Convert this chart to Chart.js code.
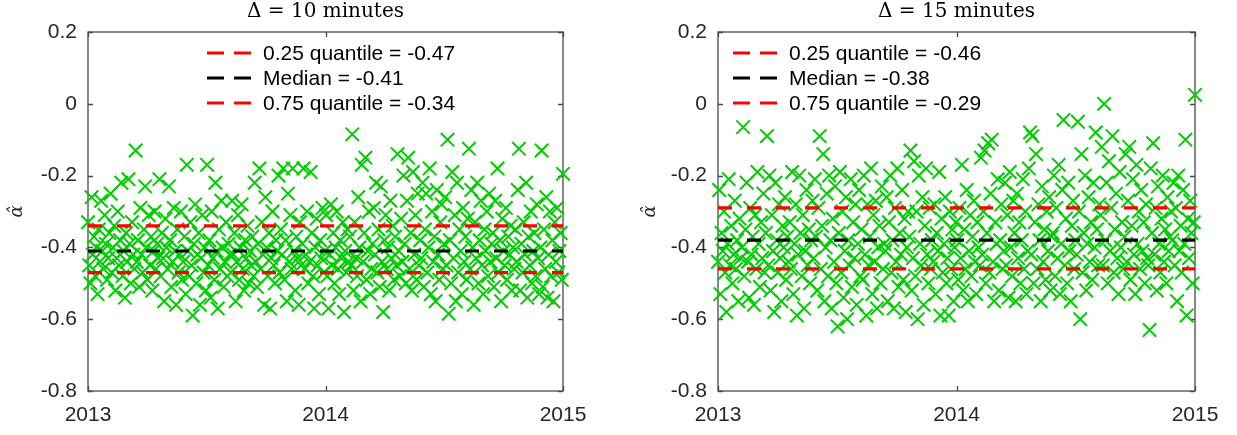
<!DOCTYPE html>
<html><head><meta charset="utf-8">
<script src="https://cdn.jsdelivr.net/npm/chart.js@4.4.1/dist/chart.umd.min.js"></script>
<style>
html,body{margin:0;padding:0;background:#fff;overflow:hidden}
#wrap{position:relative;width:1237px;height:435px;background:#fff}
canvas{position:absolute;top:0}
#c1{left:0}
#c2{left:640px}
</style></head><body>
<div id="wrap"><canvas id="c1" width="640" height="435"></canvas><canvas id="c2" width="597" height="435"></canvas></div>
<script>
// ---- data ----
const startYear = 2013, endYear = 2015;
const xTickYears = [2013, 2014, 2015];
const yMin = -0.8, yMax = 0.2, yStep = 0.2;
const titles = ['Δ = 10 minutes', 'Δ = 15 minutes'];
const yLabel = 'α̂';
const legendNames = ['0.25 quantile', 'Median', '0.75 quantile'];
const quant10 = [-0.47, -0.41, -0.34];
const quant15 = [-0.46, -0.38, -0.29];

const alpha10 = [
-0.33,-0.45,-0.50,-0.26,-0.42,-0.37,-0.48,-0.40,-0.53,-0.35,-0.44,-0.27,-0.41,-0.46,-0.31,-0.39,-0.49,-0.43,-0.36,-0.25,
-0.47,-0.40,-0.34,-0.52,-0.43,-0.30,-0.45,-0.38,-0.22,-0.48,-0.41,-0.54,-0.36,-0.44,-0.21,-0.39,-0.50,-0.33,-0.42,-0.46,
-0.13,-0.44,-0.38,-0.51,-0.29,-0.42,-0.47,-0.35,-0.23,-0.40,-0.49,-0.31,-0.45,-0.37,-0.52,-0.41,-0.30,-0.46,-0.39,-0.43,
-0.21,-0.48,-0.36,-0.43,-0.55,-0.32,-0.40,-0.46,-0.23,-0.38,-0.51,-0.44,-0.29,-0.41,-0.56,-0.35,-0.47,-0.42,-0.30,-0.49,
-0.44,-0.37,-0.53,-0.17,-0.41,-0.48,-0.33,-0.45,-0.59,-0.39,-0.28,-0.50,-0.42,-0.36,-0.56,-0.43,-0.31,-0.47,-0.40,-0.52,
-0.17,-0.45,-0.38,-0.54,-0.30,-0.43,-0.49,-0.22,-0.41,-0.57,-0.35,-0.46,-0.27,-0.40,-0.51,-0.44,-0.33,-0.48,-0.39,-0.42,
-0.47,-0.27,-0.42,-0.36,-0.55,-0.44,-0.31,-0.49,-0.40,-0.28,-0.46,-0.52,-0.38,-0.43,-0.34,-0.50,-0.41,-0.45,-0.37,-0.48,
-0.22,-0.44,-0.51,-0.39,-0.18,-0.46,-0.33,-0.42,-0.56,-0.26,-0.40,-0.48,-0.36,-0.57,-0.43,-0.30,-0.45,-0.50,-0.38,-0.41,
-0.20,-0.47,-0.35,-0.42,-0.18,-0.49,-0.38,-0.55,-0.25,-0.44,-0.31,-0.46,-0.18,-0.41,-0.52,-0.37,-0.43,-0.56,-0.33,-0.45,
-0.39,-0.18,-0.46,-0.42,-0.30,-0.50,-0.44,-0.19,-0.36,-0.48,-0.57,-0.40,-0.32,-0.45,-0.53,-0.38,-0.43,-0.29,-0.47,-0.41,
-0.31,-0.48,-0.57,-0.42,-0.28,-0.45,-0.36,-0.50,-0.40,-0.30,-0.46,-0.53,-0.38,-0.43,-0.33,-0.58,-0.41,-0.47,-0.35,-0.44,
-0.37,-0.45,-0.085,-0.52,-0.33,-0.43,-0.48,-0.26,-0.40,-0.55,-0.17,-0.44,-0.36,-0.15,-0.49,-0.41,-0.30,-0.53,-0.46,-0.39,
-0.29,-0.42,-0.22,-0.47,-0.35,-0.51,-0.23,-0.44,-0.58,-0.38,-0.31,-0.46,-0.40,-0.52,-0.27,-0.43,-0.34,-0.49,-0.37,-0.45,
-0.14,-0.41,-0.48,-0.32,-0.44,-0.20,-0.39,-0.50,-0.27,-0.15,-0.46,-0.36,-0.52,-0.19,-0.42,-0.31,-0.49,-0.25,-0.45,-0.38,
-0.43,-0.22,-0.51,-0.35,-0.25,-0.47,-0.40,-0.18,-0.53,-0.30,-0.44,-0.37,-0.55,-0.24,-0.42,-0.49,-0.33,-0.28,-0.46,-0.39,
-0.26,-0.45,-0.10,-0.585,-0.38,-0.50,-0.19,-0.43,-0.31,-0.55,-0.22,-0.47,-0.35,-0.41,-0.53,-0.29,-0.44,-0.37,-0.49,-0.32,
-0.125,-0.46,-0.24,-0.40,-0.56,-0.33,-0.43,-0.22,-0.50,-0.38,-0.27,-0.45,-0.53,-0.35,-0.41,-0.30,-0.48,-0.25,-0.44,-0.39,
-0.36,-0.51,-0.27,-0.43,-0.18,-0.47,-0.38,-0.55,-0.32,-0.41,-0.45,-0.29,-0.49,-0.37,-0.42,-0.34,-0.52,-0.40,-0.46,-0.35,
-0.44,-0.24,-0.125,-0.52,-0.39,-0.47,-0.33,-0.42,-0.22,-0.54,-0.37,-0.45,-0.30,-0.50,-0.41,-0.36,-0.48,-0.28,-0.43,-0.53,
-0.40,-0.13,-0.51,-0.35,-0.46,-0.26,-0.54,-0.42,-0.30,-0.48,-0.38,-0.55,-0.33,-0.44,-0.29,-0.47,-0.41,-0.36,-0.49,-0.195
];

const alpha15 = [
-0.44,-0.24,-0.53,-0.36,-0.41,-0.30,-0.47,-0.58,-0.39,-0.21,-0.45,-0.34,-0.50,-0.42,-0.27,-0.46,-0.38,-0.55,-0.32,-0.43,
-0.40,-0.065,-0.48,-0.35,-0.22,-0.44,-0.54,-0.29,-0.42,-0.37,-0.56,-0.31,-0.46,-0.19,-0.39,-0.51,-0.33,-0.43,-0.25,-0.47,
-0.36,-0.09,-0.45,-0.20,-0.52,-0.31,-0.41,-0.58,-0.22,-0.38,-0.47,-0.28,-0.43,-0.55,-0.34,-0.40,-0.26,-0.49,-0.37,-0.44,
-0.33,-0.46,-0.19,-0.53,-0.39,-0.28,-0.59,-0.42,-0.20,-0.36,-0.48,-0.31,-0.57,-0.41,-0.24,-0.45,-0.35,-0.50,-0.38,-0.27,
-0.43,-0.21,-0.37,-0.52,-0.29,-0.09,-0.46,-0.34,-0.14,-0.55,-0.40,-0.25,-0.48,-0.20,-0.38,-0.57,-0.32,-0.44,-0.23,-0.50,
-0.62,-0.36,-0.19,-0.47,-0.30,-0.54,-0.41,-0.26,-0.60,-0.38,-0.45,-0.21,-0.51,-0.33,-0.43,-0.28,-0.56,-0.39,-0.24,-0.48,
-0.35,-0.49,-0.20,-0.42,-0.59,-0.28,-0.45,-0.37,-0.18,-0.53,-0.31,-0.44,-0.27,-0.57,-0.40,-0.34,-0.50,-0.23,-0.46,-0.39,
-0.41,-0.26,-0.55,-0.33,-0.20,-0.47,-0.38,-0.57,-0.29,-0.44,-0.18,-0.51,-0.36,-0.42,-0.24,-0.49,-0.32,-0.58,-0.40,-0.30,
-0.37,-0.13,-0.52,-0.43,-0.16,-0.48,-0.30,-0.60,-0.20,-0.39,-0.45,-0.26,-0.56,-0.34,-0.18,-0.42,-0.50,-0.29,-0.46,-0.38,
-0.44,-0.28,-0.53,-0.36,-0.41,-0.19,-0.59,-0.32,-0.47,-0.39,-0.26,-0.50,-0.43,-0.59,-0.30,-0.46,-0.35,-0.55,-0.40,-0.33,
-0.38,-0.49,-0.29,-0.43,-0.17,-0.52,-0.35,-0.46,-0.24,-0.55,-0.41,-0.31,-0.48,-0.37,-0.27,-0.44,-0.53,-0.33,-0.40,-0.45,
-0.15,-0.42,-0.30,-0.13,-0.50,-0.36,-0.11,-0.47,-0.25,-0.10,-0.44,-0.55,-0.33,-0.39,-0.21,-0.52,-0.38,-0.28,-0.46,-0.41,
-0.22,-0.45,-0.31,-0.54,-0.19,-0.40,-0.48,-0.27,-0.36,-0.55,-0.25,-0.43,-0.33,-0.50,-0.38,-0.21,-0.46,-0.30,-0.53,-0.41,
-0.18,-0.08,-0.42,-0.09,-0.50,-0.33,-0.14,-0.46,-0.28,-0.38,-0.55,-0.23,-0.44,-0.35,-0.49,-0.30,-0.41,-0.26,-0.52,-0.37,
-0.36,-0.20,-0.48,-0.29,-0.43,-0.17,-0.53,-0.39,-0.24,-0.045,-0.45,-0.32,-0.50,-0.22,-0.41,-0.55,-0.34,-0.27,-0.46,-0.38,
-0.42,-0.05,-0.30,-0.60,-0.14,-0.47,-0.36,-0.20,-0.52,-0.39,-0.26,-0.44,-0.33,-0.49,-0.22,-0.40,-0.08,-0.35,-0.45,-0.28,
-0.31,-0.12,-0.45,0.00,-0.38,-0.22,-0.50,-0.16,-0.41,-0.29,-0.09,-0.47,-0.35,-0.25,-0.43,-0.53,-0.19,-0.40,-0.33,-0.46,
-0.37,-0.14,-0.44,-0.27,-0.12,-0.49,-0.34,-0.21,-0.42,-0.53,-0.17,-0.39,-0.30,-0.46,-0.24,-0.41,-0.33,-0.50,-0.28,-0.43,
-0.45,-0.63,-0.18,-0.36,-0.11,-0.42,-0.29,-0.52,-0.23,-0.39,-0.47,-0.32,-0.20,-0.44,-0.35,-0.50,-0.26,-0.41,-0.37,-0.30,
-0.38,-0.22,-0.45,-0.29,-0.55,-0.20,-0.41,-0.34,-0.47,-0.24,-0.39,-0.10,-0.59,-0.32,-0.43,-0.27,-0.36,-0.50,-0.33,0.025
];

// ---- rendering ----
const GREEN = 'rgb(0,204,0)';
const lineColors = ['#ff0000', '#000000', '#ff0000'];
const AXIS = '#4a4a4a';
const TXT = '#262626';

function toPoints(vals) {
  const n = vals.length;
  return vals.map((v, i) => ({ x: startYear + (endYear - startYear) * i / (n - 1), y: v }));
}

const framePlugin = {
  id: 'frame',
  beforeDatasetsDraw(chart) {
    const { ctx, chartArea: a, scales: { x, y } } = chart;
    ctx.save();
    ctx.strokeStyle = AXIS;
    ctx.lineWidth = 1.3;
    ctx.strokeRect(a.left, a.top, a.width, a.height);
    const tl = 5;
    ctx.beginPath();
    x.ticks.forEach(t => {
      const px = Math.round(x.getPixelForValue(t.value)) + 0.5;
      ctx.moveTo(px, a.bottom); ctx.lineTo(px, a.bottom - tl);
      ctx.moveTo(px, a.top); ctx.lineTo(px, a.top + tl);
    });
    y.ticks.forEach(t => {
      const py = Math.round(y.getPixelForValue(t.value)) + 0.5;
      ctx.moveTo(a.left, py); ctx.lineTo(a.left + tl, py);
      ctx.moveTo(a.right, py); ctx.lineTo(a.right - tl, py);
    });
    ctx.stroke();
    ctx.restore();
  },
  afterDraw(chart) {
    const o = chart.options.plugins.frame;
    const { ctx, chartArea: a } = chart;
    ctx.save();
    // title
    ctx.fillStyle = '#000';
    ctx.font = '20px "DejaVu Serif", serif';
    ctx.textAlign = 'center';
    ctx.textBaseline = 'middle';
    ctx.fillText(o.title, (a.left + a.right) / 2, a.top - 20);
    // legend
    ctx.font = '21px "Liberation Sans", Arial, sans-serif';
    ctx.textAlign = 'left';
    const ds = chart.data.datasets;
    for (let i = 0; i < 3; i++) {
      const yy = o.legY + i * o.legDy;
      ctx.strokeStyle = ds[i].borderColor;
      ctx.lineWidth = 3.2;
      ctx.setLineDash([17, 10]);
      ctx.beginPath();
      ctx.moveTo(o.legX, yy); ctx.lineTo(o.legX + 44, yy);
      ctx.stroke();
      ctx.setLineDash([]);
      ctx.fillStyle = '#000';
      ctx.fillText(ds[i].label, o.legX + 56, yy + 1);
    }
    ctx.restore();
  }
};

function makeChart(id, vals, quants, title, axisW, rightPad, legX, titlePad) {
  const datasets = quants.map((q, i) => ({
    type: 'line',
    label: legendNames[i] + ' = ' + q.toFixed(2),
    data: [{ x: startYear, y: q }, { x: endYear, y: q }],
    borderColor: lineColors[i],
    borderWidth: 3.2,
    borderDash: [14, 15],
    pointRadius: 0,
    fill: false,
    order: 0
  }));
  datasets.push({
    type: 'scatter',
    label: 'alpha',
    data: toPoints(vals),
    pointStyle: 'crossRot',
    pointRadius: 9.5,
    pointHoverRadius: 9.5,
    borderColor: GREEN,
    backgroundColor: GREEN,
    pointBorderWidth: 2,
    borderWidth: 2,
    clip: false,
    order: 1
  });
  return new Chart(document.getElementById(id), {
    data: { datasets },
    plugins: [framePlugin],
    options: {
      responsive: false,
      animation: false,
      events: [],
      layout: { padding: { top: 32, right: rightPad, bottom: 0, left: 0 } },
      plugins: {
        legend: { display: false },
        tooltip: { enabled: false },
        frame: { title, legX, legY: 53, legDy: 25 }
      },
      scales: {
        x: {
          type: 'linear',
          min: startYear, max: endYear,
          afterBuildTicks: s => { s.ticks = xTickYears.map(v => ({ value: v })); },
          afterFit: s => { s.height = 44; },
          grid: { display: false, drawTicks: false },
          border: { display: false },
          ticks: {
            color: TXT, padding: 12, maxRotation: 0,
            font: { family: '"Liberation Sans", Arial, sans-serif', size: 21 },
            callback: v => String(v)
          }
        },
        y: {
          type: 'linear',
          min: yMin, max: yMax,
          afterBuildTicks: s => {
            const t = [];
            for (let v = yMax; v >= yMin - 1e-9; v -= yStep) t.push({ value: Math.round(v * 10) / 10 });
            s.ticks = t;
          },
          afterFit: s => { s.width = axisW; },
          grid: { display: false, drawTicks: false },
          border: { display: false },
          title: {
            display: true, text: yLabel, color: TXT,
            padding: { top: titlePad, bottom: 0 },
            font: { family: '"DejaVu Serif", serif', size: 18, style: 'italic' }
          },
          ticks: {
            color: TXT, padding: 11,
            font: { family: '"Liberation Sans", Arial, sans-serif', size: 21 },
            callback: v => (Math.abs(v) < 1e-9 ? '0' : v.toFixed(1))
          }
        }
      }
    }
  });
}

makeChart('c1', alpha10, quant10, titles[0], 88, 77, 207, 7);
makeChart('c2', alpha15, quant15, titles[1], 78, 42, 93, 0);
</script>
</body></html>
